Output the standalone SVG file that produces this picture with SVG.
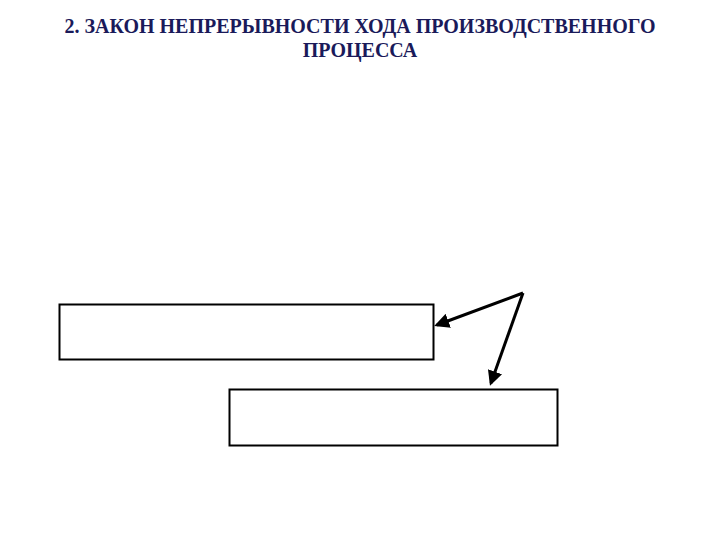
<svg xmlns="http://www.w3.org/2000/svg" width="720" height="540" viewBox="0 0 720 540">
<style>
.title{font-family:"Liberation Serif","Times New Roman",serif;font-weight:bold;font-size:20px;fill:#1a1a5a;text-anchor:middle}
.box{fill:#fff;stroke:#000;stroke-width:2}
.arrow{stroke:#000;stroke-width:3;fill:none}
</style>
<defs>
<marker id="ah" markerWidth="5" markerHeight="5" refX="4" refY="2.5" orient="auto" markerUnits="strokeWidth">
<path d="M0,0 L5,2.5 L0,5 Z" fill="#000"/>
</marker>
</defs>
<rect width="720" height="540" fill="#fff"/>
<g id="title">
<text class="title" x="360" y="33">2. ЗАКОН НЕПРЕРЫВНОСТИ ХОДА ПРОИЗВОДСТВЕННОГО</text>
<text class="title" x="360" y="57">ПРОЦЕССА</text>
</g>
<g id="box1"><rect class="box" x="59.5" y="304.5" width="374" height="55"/></g>
<g id="box2"><rect class="box" x="229.5" y="389.5" width="328" height="56"/></g>
<g id="connectors">
<line class="arrow" x1="523" y1="293" x2="437" y2="325" marker-end="url(#ah)"/>
<line class="arrow" x1="523" y1="293" x2="491" y2="383" marker-end="url(#ah)"/>
</g>
</svg>
